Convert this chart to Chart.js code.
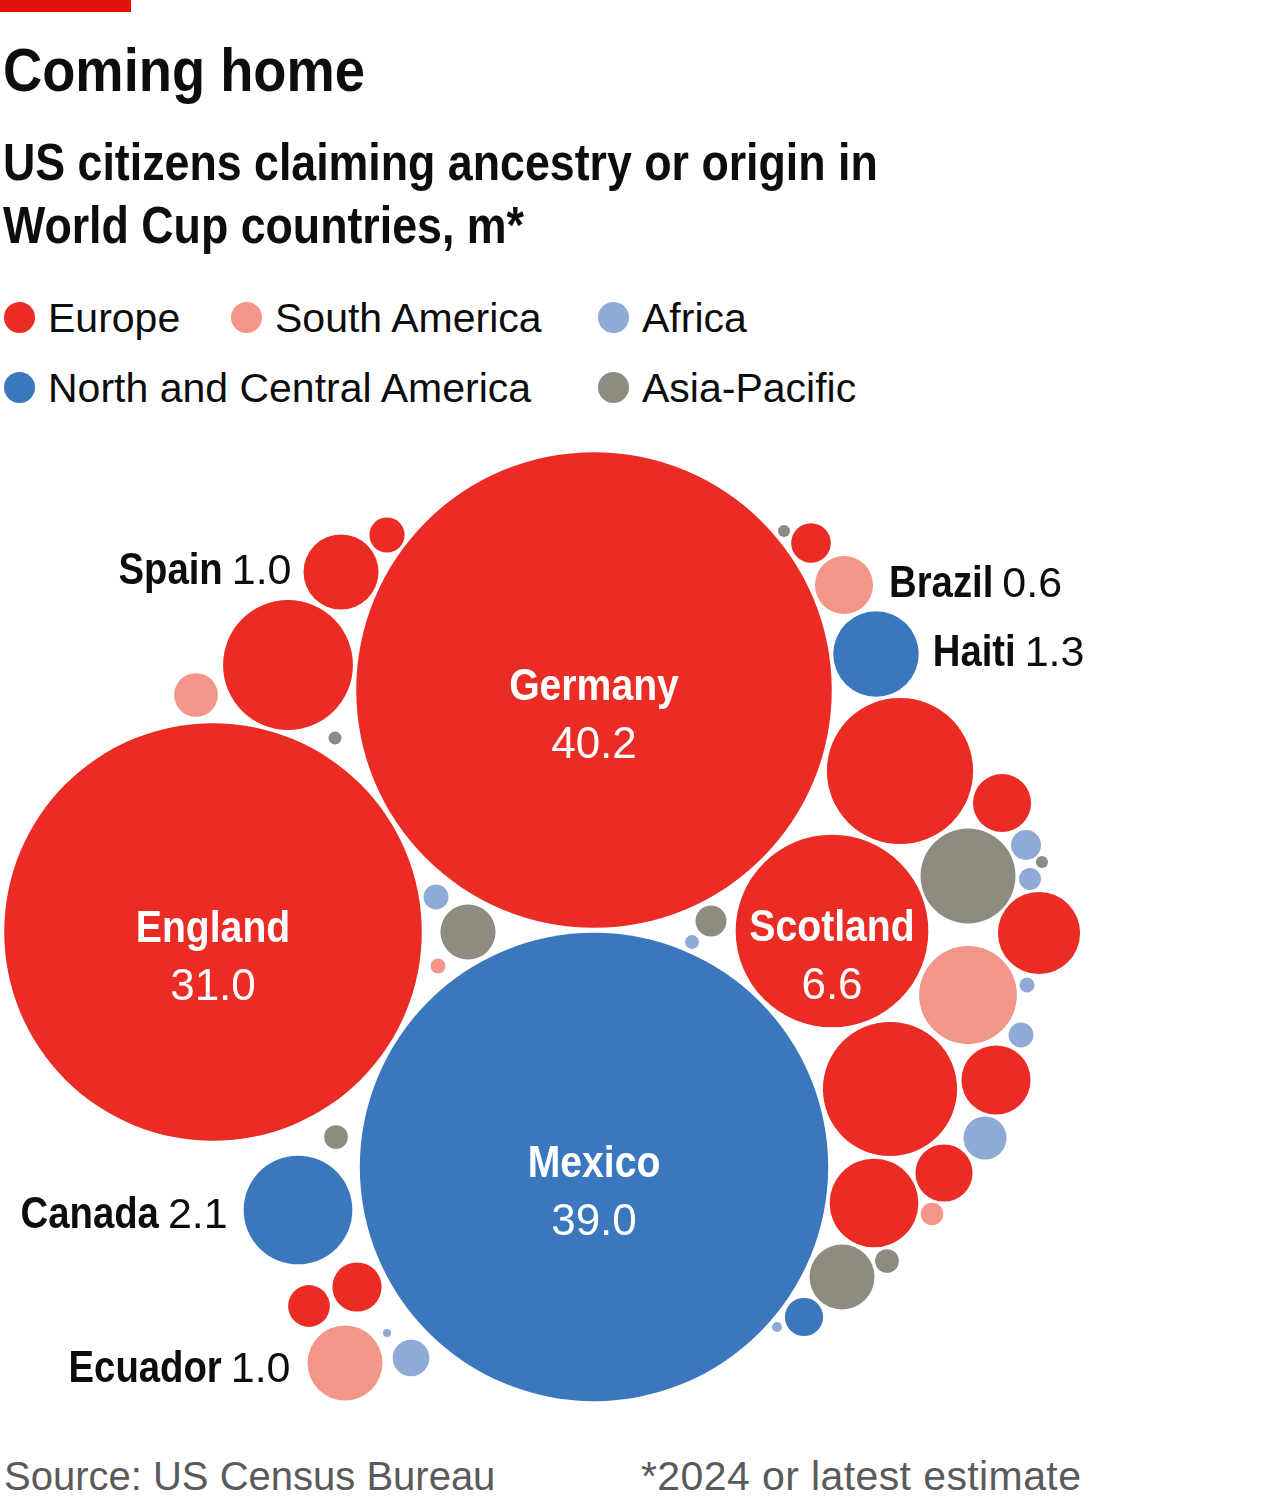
<!DOCTYPE html>
<html>
<head>
<meta charset="utf-8">
<script src="https://cdn.jsdelivr.net/npm/chart.js@4.4.1/dist/chart.umd.min.js"></script>
<style>
  html, body { margin: 0; padding: 0; background: #ffffff; }
  body { width: 1280px; height: 1506px; position: relative; overflow: hidden; color: #0d0d0d;
         font-family: "Liberation Sans", Arial, sans-serif; }
  #bar { position: absolute; left: 0; top: 0; width: 131px; height: 12px; background: #E3120B; }
  .cond { position: absolute; white-space: nowrap; font-weight: bold; transform-origin: 0 0; }
  #title { left: 3px; top: 40px; font-size: 61px; line-height: 61px; transform: scaleX(0.89); }
  #subtitle { left: 3px; top: 131px; font-size: 52px; line-height: 63px; transform: scaleX(0.86); }
  .lg { position: absolute; font-size: 41px; line-height: 41px; white-space: nowrap; }
  .dot { position: absolute; width: 31px; height: 31px; border-radius: 50%; }
  #chartWrap { position: absolute; left: 0; top: 430px; width: 1280px; height: 1010px; }
  #chartWrap canvas { display: block; }
  .foot { position: absolute; top: 1456px; font-size: 40px; line-height: 40px; color: #5a5a5a; white-space: nowrap; }
</style>
</head>
<body>
<div id="bar"></div>
<div id="title" class="cond">Coming home</div>
<div id="subtitle" class="cond">US citizens claiming ancestry or origin in<br>World Cup countries, m*</div>
<div id="legend"></div>
<div id="chartWrap"><canvas id="c" width="1280" height="1010"></canvas></div>
<div class="foot" style="left:4px">Source: US Census Bureau</div>
<div class="foot" style="left:641px; font-size:41px; letter-spacing:0.4px">*2024 or latest estimate</div>

<script>
// ---------- DATA ----------
const regions = ["Europe", "South America", "Africa", "North and Central America", "Asia-Pacific"];

// Europe
const europeNames  = ["Germany", "England", "Scotland", "Spain", "", "", "", "", "", "", "", "", "", "", "", ""];
const europeValues = [40.2, 31.0, 6.6, 1.0, 0.22, 3.0, 0.28, 3.8, 0.6, 1.2, 3.2, 0.85, 0.58, 1.4, 0.43, 0.31];
const europeX      = [0, -381, 238, -253, -207, -306, 217, 306, 408, 445, 296, 402, 350, 280, -237, -285];
const europeY      = [239, -3, -2, 357, 394, 264, 386, 158, 126, -4, -160, -151, -244, -274, -358, -377];

// South America
const southNames  = ["Brazil", "Ecuador", "", "", "", ""];
const southValues = [0.6, 1.0, 0.34, 1.7, 0.04, 0.09];
const southX      = [250, -249, -398, 374, -156, 338];
const southY      = [344, -434, 234, -66, -37, -285];

// Africa
const africaNames  = ["", "", "", "", "", "", "", "", "", ""];
const africaValues = [0.11, 0.035, 0.16, 0.086, 0.04, 0.11, 0.33, 0.24, 0.012, 0.018];
const africaX      = [-158, 98, 432, 436, 433, 427, 391, -183, -207, 183];
const africaY      = [32, -13, 84, 50, -56, -106, -209, -429, -404, -398];

// North and Central America
const northNames  = ["Mexico", "Haiti", "Canada", ""];
const northValues = [39.0, 1.3, 2.1, 0.26];
const northX      = [0, 282, -296, 210];
const northY      = [-238, 275, -281, -388];

// Asia-Pacific
const asiaNames  = ["", "", "", "", "", "", "", "", ""];
const asiaValues = [0.026, 0.03, 0.54, 0.17, 1.6, 0.026, 0.1, 0.75, 0.1];
const asiaX      = [190, -259, -126, 117, 374, 448, -258, 248, 293];
const asiaY      = [398, 191, -3, 8, 53, 67, -208, -348, -332];

// ---------- STYLE / LAYOUT ----------
const regionColors = ["#EB2C24", "#F49687", "#8FAAD6", "#3A77BD", "#8E8C80"];
const X_MIN = -594, X_MAX = 686, Y_MIN = -511, Y_MAX = 499;
const R_UNITS_PER_SQRT_M = 37.5;   // bubble area proportional to value
const calloutSide = { Spain: "left", Brazil: "right", Haiti: "right", Canada: "left", Ecuador: "left" };
const calloutGap  = { Spain: 12, Brazil: 16, Haiti: 14, Canada: 16, Ecuador: 17 };
const calloutDy   = { Spain: 12, Brazil: 12, Haiti: 12, Canada: 18, Ecuador: 19 };
const INSIDE_MIN = 5;
const FONT = '"Liberation Sans", Arial, sans-serif';
const COND = 0.87;  // horizontal squeeze for bold labels

// ---------- LEGEND (HTML) ----------
const legendPos = [
  { left: 4, top: 302 }, { left: 231, top: 302 }, { left: 598, top: 302 },
  { left: 4, top: 372 }, { left: 598, top: 372 }
];
const legendEl = document.getElementById('legend');
regions.forEach((name, i) => {
  const p = legendPos[i];
  const d = document.createElement('div');
  d.className = 'dot';
  d.style.left = p.left + 'px'; d.style.top = p.top + 'px';
  d.style.background = regionColors[i];
  legendEl.appendChild(d);
  const t = document.createElement('div');
  t.className = 'lg';
  t.textContent = name;
  t.style.left = (p.left + 44) + 'px';
  t.style.top = (p.top - 4) + 'px';
  legendEl.appendChild(t);
});

// ---------- DATASETS ----------
const regionSeries = [
  [europeNames, europeValues, europeX, europeY],
  [southNames, southValues, southX, southY],
  [africaNames, africaValues, africaX, africaY],
  [northNames, northValues, northX, northY],
  [asiaNames, asiaValues, asiaX, asiaY]
];
const pxPerUnit = 1280 / (X_MAX - X_MIN);
const datasets = regionSeries.map(([names, values, xs, ys], i) => ({
  label: regions[i],
  names: names,
  values: values,
  data: values.map((v, k) => ({ x: xs[k], y: ys[k], r: R_UNITS_PER_SQRT_M * Math.sqrt(v) * pxPerUnit })),
  backgroundColor: regionColors[i],
  hoverBackgroundColor: regionColors[i],
  borderWidth: 0,
  hoverBorderWidth: 0,
  clip: false
}));

// ---------- LABEL PLUGIN ----------
function condText(ctx, text, x, y, align) {
  ctx.save();
  ctx.translate(x, y);
  ctx.scale(COND, 1);
  ctx.textAlign = align;
  ctx.fillText(text, 0, 0);
  ctx.restore();
}
const labelPlugin = {
  id: 'bubbleLabels',
  afterDatasetsDraw(chart) {
    const ctx = chart.ctx;
    ctx.save();
    ctx.textBaseline = 'alphabetic';
    chart.data.datasets.forEach((ds, di) => {
      const meta = chart.getDatasetMeta(di);
      meta.data.forEach((el, i) => {
        const name = ds.names[i];
        if (!name) return;
        const v = ds.values[i];
        const r = ds.data[i].r;
        const x = el.x, y = el.y;
        const valTxt = v.toFixed(1);
        if (v >= INSIDE_MIN) {
          ctx.fillStyle = '#ffffff';
          ctx.font = 'bold 45px ' + FONT;
          condText(ctx, name, x, y + 10, 'center');
          ctx.font = '44px ' + FONT;
          ctx.textAlign = 'center';
          ctx.fillText(valTxt, x, y + 68);
        } else {
          const side = calloutSide[name] || 'right';
          const off = calloutGap[name] || 15;
          ctx.fillStyle = '#0d0d0d';
          ctx.font = 'bold 44px ' + FONT;
          const nw = ctx.measureText(name).width * COND;
          ctx.font = '43px ' + FONT;
          const vw = ctx.measureText(valTxt).width;
          const gap = 9;
          const by = y + (calloutDy[name] || 13);
          let sx;
          if (side === 'right') sx = x + r + off;
          else sx = x - r - off - vw - gap - nw;
          ctx.font = 'bold 44px ' + FONT;
          condText(ctx, name, sx, by, 'left');
          ctx.font = '43px ' + FONT;
          ctx.textAlign = 'left';
          ctx.fillText(valTxt, sx + nw + gap, by);
        }
      });
    });
    ctx.restore();
  }
};

new Chart(document.getElementById('c'), {
  type: 'bubble',
  data: { datasets },
  options: {
    responsive: false,
    animation: false,
    devicePixelRatio: 1,
    layout: { padding: 0, autoPadding: false },
    events: [],
    scales: {
      x: { type: 'linear', min: X_MIN, max: X_MAX, display: false },
      y: { type: 'linear', min: Y_MIN, max: Y_MAX, display: false }
    },
    plugins: { legend: { display: false }, tooltip: { enabled: false } }
  },
  plugins: [labelPlugin]
});
</script>
</body>
</html>
